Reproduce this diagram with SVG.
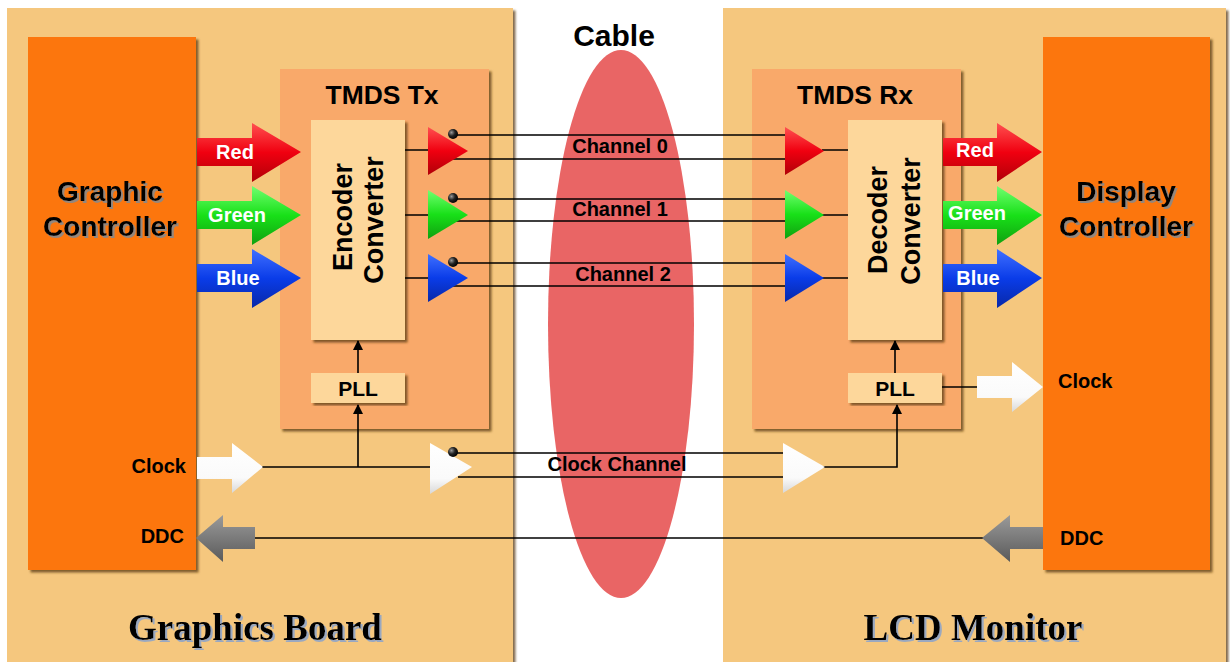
<svg xmlns="http://www.w3.org/2000/svg" width="1230" height="662" viewBox="0 0 1230 662">
<style>
.panel{fill:#F5C77E}
.ctrl{fill:#FC7608}
.tmds{fill:#F9A96B}
.box{fill:#FDD79B}
.w{stroke:#000;stroke-width:1.6;fill:none}
.t{font-family:"Liberation Sans",Arial,sans-serif;font-weight:bold;fill:#000}
.lb{font-size:20px}
.wt{font-family:"Liberation Sans",Arial,sans-serif;font-weight:bold;fill:#fff;font-size:20px;text-anchor:middle}
.big{font-size:28px;text-anchor:middle}
.ser{font-family:"Liberation Serif","Times New Roman",serif;font-weight:bold;font-size:37px;text-anchor:middle;fill:#000}
</style>
<defs>
<filter id="sh" x="-5%" y="-5%" width="115%" height="115%"><feDropShadow dx="2.5" dy="2.5" stdDeviation="1" flood-color="#5a3a10" flood-opacity="0.75"/></filter>
<filter id="tsh" x="-5%" y="-10%" width="115%" height="130%"><feDropShadow dx="2" dy="2" stdDeviation="0.6" flood-color="#888" flood-opacity="0.9"/></filter>
<filter id="bsh" x="-5%" y="-10%" width="115%" height="130%"><feDropShadow dx="2" dy="2" stdDeviation="0.5" flood-color="#9aa8c0" flood-opacity="1"/></filter>
<linearGradient id="gr" x1="0" y1="0" x2="0" y2="1"><stop offset="0" stop-color="#FF5050"/><stop offset="0.5" stop-color="#F00010"/><stop offset="1" stop-color="#B00008"/></linearGradient>
<linearGradient id="gg" x1="0" y1="0" x2="0" y2="1"><stop offset="0" stop-color="#70FF70"/><stop offset="0.5" stop-color="#18E018"/><stop offset="1" stop-color="#10A010"/></linearGradient>
<linearGradient id="gb" x1="0" y1="0" x2="0" y2="1"><stop offset="0" stop-color="#4070FF"/><stop offset="0.5" stop-color="#0A3CE8"/><stop offset="1" stop-color="#0828A8"/></linearGradient>
<linearGradient id="gw" x1="0" y1="0" x2="0" y2="1"><stop offset="0" stop-color="#FFFFFF"/><stop offset="0.7" stop-color="#FAFAFA"/><stop offset="1" stop-color="#D8D8D8"/></linearGradient>
<linearGradient id="gy" x1="0" y1="0" x2="0" y2="1"><stop offset="0" stop-color="#9A9A9A"/><stop offset="0.5" stop-color="#7A7A7A"/><stop offset="1" stop-color="#5A5A5A"/></linearGradient>
<radialGradient id="dot" cx="0.35" cy="0.35" r="0.7"><stop offset="0" stop-color="#999"/><stop offset="0.5" stop-color="#222"/><stop offset="1" stop-color="#000"/></radialGradient>
<marker id="ah" markerWidth="10" markerHeight="10" refX="9" refY="5" orient="auto" markerUnits="userSpaceOnUse"><path d="M0,0 L10,5 L0,10 Z" fill="#000"/></marker>
</defs>
<rect width="1230" height="662" fill="#fff"/>

<g id="graphics-board"><rect class="panel" x="7" y="8" width="506" height="660" filter="url(#sh)"/><text class="ser" x="255" y="640" filter="url(#bsh)">Graphics Board</text></g>
<g id="lcd-monitor"><rect class="panel" x="723" y="8" width="503" height="660" filter="url(#sh)"/><text class="ser" x="973" y="640" filter="url(#bsh)">LCD Monitor</text></g>

<g id="cable"><ellipse cx="621" cy="324" rx="73" ry="274" fill="#E96565"/><text class="t" x="614" y="46" font-size="30" text-anchor="middle">Cable</text></g>

<g id="graphic-controller"><rect class="ctrl" x="28" y="37" width="168" height="533" filter="url(#sh)"/>
<text class="t big" x="110" y="201" filter="url(#tsh)">Graphic</text><text class="t big" x="110" y="236" filter="url(#tsh)">Controller</text>
<text class="t lb" x="186" y="473" text-anchor="end">Clock</text><text class="t lb" x="184" y="543" text-anchor="end">DDC</text></g>
<g id="display-controller"><rect class="ctrl" x="1043" y="37" width="167" height="533" filter="url(#sh)"/>
<text class="t big" x="1126" y="201" filter="url(#tsh)">Display</text><text class="t big" x="1126" y="236" filter="url(#tsh)">Controller</text>
<text class="t lb" x="1058" y="388">Clock</text><text class="t lb" x="1060" y="545">DDC</text></g>

<g id="tmds-tx"><rect class="tmds" x="280" y="69" width="209" height="360" filter="url(#sh)"/><text class="t" x="382" y="104" font-size="25" text-anchor="middle" textLength="113" lengthAdjust="spacingAndGlyphs">TMDS Tx</text></g>
<g id="tmds-rx"><rect class="tmds" x="752" y="69" width="209" height="360" filter="url(#sh)"/><text class="t" x="855" y="104" font-size="25" text-anchor="middle" textLength="116" lengthAdjust="spacingAndGlyphs">TMDS Rx</text></g>

<g id="encoder"><rect class="box" x="311" y="120" width="94" height="220" filter="url(#sh)"/>
<text class="t" font-size="27" text-anchor="middle" transform="translate(352,217) rotate(-90)">Encoder</text>
<text class="t" font-size="27" text-anchor="middle" transform="translate(383,220) rotate(-90)">Converter</text></g>
<g id="decoder"><rect class="box" x="848" y="120" width="94" height="220" filter="url(#sh)"/>
<text class="t" font-size="27" text-anchor="middle" transform="translate(887,220) rotate(-90)">Decoder</text>
<text class="t" font-size="27" text-anchor="middle" transform="translate(920,221) rotate(-90)">Converter</text></g>
<g id="pll-tx"><rect class="box" x="311" y="373" width="94" height="30" filter="url(#sh)"/><text class="t" x="358" y="396" font-size="21" text-anchor="middle">PLL</text></g>
<g id="pll-rx"><rect class="box" x="848" y="373" width="94" height="30" filter="url(#sh)"/><text class="t" x="895" y="396" font-size="21" text-anchor="middle">PLL</text></g>

<g id="connectors">
<path class="w" d="M405,150H430M405,215H430M405,278H430"/>
<path class="w" d="M450,135H786M452,159H786M450,199H786M452,221H786M450,263H786M452,286H786"/>
<path class="w" d="M822,150H848M822,215H848M822,278H848"/>
<path class="w" d="M262,467H432M358,467V405" marker-end="url(#ah)"/>
<path class="w" d="M358,373V341" marker-end="url(#ah)"/>
<path class="w" d="M450,453H786M458,477H786"/>
<path class="w" d="M822,467H897V405" marker-end="url(#ah)"/>
<path class="w" d="M895,373V341" marker-end="url(#ah)"/>
<path class="w" d="M942,387H980"/>
<path class="w" d="M254,538H984"/>
</g>

<g id="tx-buffers">
<polygon points="428,127 428,175 468,151" fill="url(#gr)"/>
<polygon points="428,190 428,239 468,215" fill="url(#gg)"/>
<polygon points="428,254 428,302 468,278" fill="url(#gb)"/>
<polygon points="430,443 430,494 472,467" fill="url(#gw)"/>
<circle cx="453" cy="134" r="5" fill="url(#dot)"/>
<circle cx="453" cy="198" r="5" fill="url(#dot)"/>
<circle cx="453" cy="262" r="5" fill="url(#dot)"/>
<circle cx="453" cy="452" r="5" fill="url(#dot)"/>
</g>
<g id="rx-buffers">
<polygon points="785,127 785,175 824,151" fill="url(#gr)"/>
<polygon points="785,190 785,239 824,215" fill="url(#gg)"/>
<polygon points="785,254 785,302 824,278" fill="url(#gb)"/>
<polygon points="783,443 783,493 825,467" fill="url(#gw)"/>
</g>

<g id="channel-labels">
<text class="t lb" x="620" y="153" text-anchor="middle">Channel 0</text>
<text class="t lb" x="620" y="216" text-anchor="middle">Channel 1</text>
<text class="t lb" x="623" y="281" text-anchor="middle">Channel 2</text>
<text class="t lb" x="617" y="471" text-anchor="middle">Clock Channel</text>
</g>

<g id="in-arrows">
<polygon points="197,138 252,138 252,123 301,152 252,182 252,166 197,166" fill="url(#gr)"/>
<polygon points="197,201 252,201 252,186 301,215 252,245 252,229 197,229" fill="url(#gg)"/>
<polygon points="197,264 252,264 252,249 301,278 252,308 252,292 197,292" fill="url(#gb)"/>
<text class="wt" x="235" y="159">Red</text>
<text class="wt" x="237" y="222">Green</text>
<text class="wt" x="238" y="285">Blue</text>
<polygon points="197,457 232,457 232,443 263,467 232,493 232,479 197,479" fill="url(#gw)"/>
<polygon points="196,538 223,515 223,527 255,527 255,549 223,549 223,562" fill="url(#gy)"/>
</g>
<g id="out-arrows">
<polygon points="943,138 997,138 997,123 1042,152 997,182 997,166 943,166" fill="url(#gr)"/>
<polygon points="943,201 997,201 997,186 1042,215 997,245 997,229 943,229" fill="url(#gg)"/>
<polygon points="943,264 997,264 997,249 1042,278 997,308 997,292 943,292" fill="url(#gb)"/>
<text class="wt" x="975" y="157">Red</text>
<text class="wt" x="977" y="220">Green</text>
<text class="wt" x="978" y="285">Blue</text>
<polygon points="977,376 1012,376 1012,362 1043,387 1012,412 1012,398 977,398" fill="url(#gw)"/>
<polygon points="982,538 1010,515 1010,527 1043,527 1043,549 1010,549 1010,562" fill="url(#gy)"/>
</g>
</svg>
